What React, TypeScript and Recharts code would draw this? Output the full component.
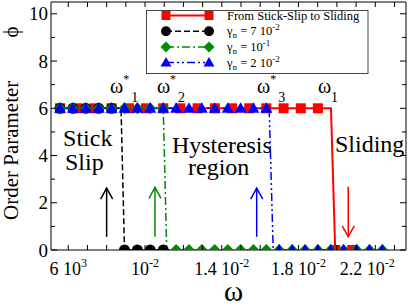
import React from 'react';
import { LineChart, Line, XAxis, YAxis, Legend, ReferenceLine, ReferenceDot } from 'recharts';

const SERIF = '"Liberation Serif", "Times New Roman", serif';
const RED = '#ff0000';
const BLACK = '#000000';
const GREEN = '#008b00';
const BLUE = '#0000ff';

// from stick-slip to sliding (omega increased)
const redOmega = [0.00557, 0.00647, 0.00736, 0.00826, 0.00916, 0.01005, 0.01095, 0.01184, 0.01274, 0.01364, 0.01453, 0.01543, 0.01632, 0.01722, 0.01812, 0.01901, 0.01991, 0.0208];
const redPhi = [6, 6, 6, 6, 6, 6, 6, 6, 6, 6, 6, 6, 6, 6, 6, 6, 0, 0];
const redDrop = [0.01969, 0.01991];

// gamma_n = 7e-2
const blackOmega = [0.00557, 0.00624, 0.00691, 0.00759, 0.00826, 0.00893, 0.0096, 0.01027, 0.01095];
const blackPhi = [6, 6, 6, 6, 6, 0, 0, 0, 0];
const blackDrop = [0.00875, 0.00893];

// gamma_n = 1e-1
const greenOmega = [0.00557, 0.00624, 0.00691, 0.00759, 0.00826, 0.00893, 0.0096, 0.01027, 0.01095, 0.01162, 0.01229, 0.01296, 0.01363, 0.01431, 0.01498, 0.01565, 0.01632, 0.01699, 0.01767, 0.01834, 0.01901, 0.01968, 0.02035, 0.02103, 0.0217, 0.02237];
const greenPhi = [6, 6, 6, 6, 6, 6, 6, 6, 6, 0, 0, 0, 0, 0, 0, 0, 0, 0, 0, 0, 0, 0, 0, 0, 0, 0];
const greenDrop = [0.01095, 0.01113];

// gamma_n = 2e-2
const blueOmega = [0.00557, 0.00624, 0.00691, 0.00759, 0.00826, 0.00893, 0.0096, 0.01027, 0.01095, 0.01162, 0.01229, 0.01296, 0.01363, 0.01431, 0.01498, 0.01565, 0.01632, 0.01699, 0.01767, 0.01834, 0.01901, 0.01968, 0.02035, 0.02103, 0.0217, 0.02237];
const bluePhi = [6, 6, 6, 6, 6, 6, 6, 6, 6, 6, 6, 6, 6, 6, 6, 6, 6, 0, 0, 0, 0, 0, 0, 0, 0, 0];
const blueDrop = [0.01647, 0.01668];

const xTicks = [0.006, 0.007, 0.008, 0.009, 0.01, 0.011, 0.012, 0.013, 0.014, 0.015, 0.016, 0.017, 0.018, 0.019, 0.02, 0.021, 0.022, 0.023];
const xMajor = [0.006, 0.01, 0.014, 0.018, 0.022];
const xMajorText = ['6 10', '10', '1.4 10', '1.8 10', '2.2 10'];
const xMajorExp = ['3', '-2', '-2', '-2', '-2'];
const yTicks = [0, 1, 2, 3, 4, 5, 6, 7, 8, 9, 10];

// annotations
const arrowOmega = [0.008, 0.01052, 0.01582, 0.02059];
const arrowFrom = [0.56, 0.56, 0.56, 2.68];
const arrowTo = [2.62, 2.65, 2.62, 0.56];
const arrowColor = [BLACK, GREEN, BLUE, RED];

const regionText = ['Stick', 'Slip', 'Hysteresis', 'region', 'Sliding'];
const regionOmega = [0.00573, 0.00583, 0.0114, 0.01224, 0.0199];
const regionPhi = [4.4, 3.4, 4.11, 3.18, 4.16];

const omegaMarkX = [0.00818, 0.01062, 0.01584, 0.01901];
const omegaMarkStar = [true, true, true, false];
const omegaMarkSub = ['1', '2', '3', '1'];

type Kind = 'square' | 'circle' | 'diamond' | 'triangle';

const series = [
  { key: 'red', color: RED, kind: 'square' as Kind, dash: undefined, width: 2, omega: redOmega, phi: redPhi, drop: redDrop, label: null, exp: null },
  { key: 'black', color: BLACK, kind: 'circle' as Kind, dash: '6 3', width: 1.5, omega: blackOmega, phi: blackPhi, drop: blackDrop, label: '7 10', exp: '-2' },
  { key: 'green', color: GREEN, kind: 'diamond' as Kind, dash: '8 3 2 3', width: 1.5, omega: greenOmega, phi: greenPhi, drop: greenDrop, label: '10', exp: '-1' },
  { key: 'blue', color: BLUE, kind: 'triangle' as Kind, dash: '8 3 2 3 2 3', width: 1.5, omega: blueOmega, phi: bluePhi, drop: blueDrop, label: '2 10', exp: '-2' },
];

const linePoints = (om: number[], ph: number[], drop: number[]) => {
  const pts = om.map((x, i) => ({ x, y: ph[i] }));
  pts.push({ x: drop[0], y: 6 }, { x: drop[1], y: 0 });
  return pts.sort((a, b) => a.x - b.x || b.y - a.y);
};

const Marker = ({ kind, cx, cy, color, s = 5 }: any) => {
  if (kind === 'square') return <rect x={cx - s} y={cy - s} width={2 * s} height={2 * s} fill={color} />;
  if (kind === 'circle') return <circle cx={cx} cy={cy} r={s + 0.5} fill={color} />;
  if (kind === 'diamond')
    return <path d={`M${cx},${cy - s - 1}L${cx + s + 1},${cy}L${cx},${cy + s + 1}L${cx - s - 1},${cy}Z`} fill={color} />;
  return <path d={`M${cx},${cy - s - 1}L${cx + s + 1},${cy + s - 0.5}L${cx - s - 1},${cy + s - 0.5}Z`} fill={color} />;
};

const BottomTick = (p: any) => {
  const v = p.payload.value;
  const i = xMajor.findIndex((m) => Math.abs(m - v) < 1e-7);
  // the last label sits a little left of its tick in the original
  const shift = i === xMajor.length - 1 ? -8 : 0;
  return (
    <g>
      <line x1={p.x} y1={p.y} x2={p.x} y2={p.y - 5} stroke="#000" />
      {i >= 0 && (
        <text x={p.x + shift} y={p.y + 25} textAnchor="middle" fontFamily={SERIF} fontSize={18} fill="#000">
          {xMajorText[i]}
          <tspan dy={-8} fontSize={12}>{xMajorExp[i]}</tspan>
        </text>
      )}
    </g>
  );
};

const TopTick = (p: any) => <line x1={p.x} y1={p.y} x2={p.x} y2={p.y + 5} stroke="#000" />;

const LeftTick = (p: any) => {
  const v = p.payload.value;
  const major = v % 2 === 0;
  return (
    <g>
      <line x1={p.x} y1={p.y} x2={p.x + (major ? 6 : 4)} y2={p.y} stroke="#000" />
      {major && (
        <text x={p.x - 3} y={p.y + 6.5} textAnchor="end" fontFamily={SERIF} fontSize={19} fill="#000">
          {v}
        </text>
      )}
    </g>
  );
};

const RightTick = (p: any) => {
  const major = p.payload.value % 2 === 0;
  return <line x1={p.x} y1={p.y} x2={p.x - (major ? 6 : 4)} y2={p.y} stroke="#000" />;
};

const xLabel = (props: any) => {
  const vb = props.viewBox;
  return (
    <text x={vb.x + vb.width / 2 + 5} y={vb.y + 51} textAnchor="middle" fontFamily={SERIF} fontSize={29} fill="#000">
      ω
    </text>
  );
};

const yLabel = (props: any) => {
  const vb = props.viewBox;
  const x = vb.x + 18;
  const yb = vb.y + 218;
  const yp = vb.y + 30;
  return (
    <g>
      <text x={x} y={yb} transform={`rotate(-90 ${x} ${yb})`} fontFamily={SERIF} fontSize={21} fill="#000">
        Order Parameter
      </text>
      <text x={x} y={yp} transform={`rotate(-90 ${x} ${yp})`} textAnchor="middle" fontFamily={SERIF} fontSize={21} fill="#000">
        ϕ
      </text>
    </g>
  );
};

const LegendBox = () => (
  <svg width={224} height={65} style={{ display: 'block', overflow: 'visible' }}>
    <rect x={0.5} y={0.5} width={221.5} height={63} fill="#fff" stroke="#444" />
    {series.map((s, i) => {
      const cy = 5.5 + 15.7 * i;
      return (
        <g key={s.key}>
          <line x1={20} y1={cy} x2={63} y2={cy} stroke={s.color} strokeWidth={s.width} strokeDasharray={s.dash} />
          <Marker kind={s.kind} cx={20} cy={cy} color={s.color} s={4.5} />
          <Marker kind={s.kind} cx={63} cy={cy} color={s.color} s={4.5} />
          {s.label === null ? (
            <text x={81} y={cy + 4} fontFamily={SERIF} fontSize={12.5} fill="#000">
              From Stick-Slip to Sliding
            </text>
          ) : (
            <text x={81} y={cy + 4} fontFamily={SERIF} fontSize={12.5} fill="#000">
              γ<tspan dy={3} fontSize={9}>n</tspan>
              <tspan dy={-3}> = {s.label}</tspan>
              <tspan dy={-5} fontSize={9}>{s.exp}</tspan>
            </text>
          )}
        </g>
      );
    })}
  </svg>
);

const arrowShape = (color: string, up: boolean) => (p: any) => {
  const { x1, y1, x2, y2 } = p;
  const tipY = up ? Math.min(y1, y2) : Math.max(y1, y2);
  const tailY = up ? Math.max(y1, y2) : Math.min(y1, y2);
  const d = up ? 11 : -11;
  return (
    <g>
      <line x1={x1} y1={tailY} x2={x2} y2={tipY} stroke={color} strokeWidth={1.5} />
      <polyline points={`${x2 - 6},${tipY + d} ${x2},${tipY} ${x2 + 6},${tipY + d}`} fill="none" stroke={color} strokeWidth={1.5} />
    </g>
  );
};

const textShape = (label: string) => (p: any) => (
  <text x={p.cx} y={p.cy} fontFamily={SERIF} fontSize={24} fill="#000">
    {label}
  </text>
);

const omegaShape = (star: boolean, sub: string) => (p: any) => (
  <text x={p.cx} y={p.cy} fontFamily={SERIF} fontSize={20} fill="#000">
    ω
    {star ? (
      <>
        <tspan dy={-10} fontSize={12}>*</tspan>
        <tspan dy={19} dx={2} fontSize={14}>{sub}</tspan>
      </>
    ) : (
      <tspan dy={9} fontSize={14}>{sub}</tspan>
    )}
  </text>
);

export default function App() {
  return (
    <div style={{ position: 'absolute', left: 0, top: 0, width: 409, height: 306, background: '#fff' }}>
      <LineChart width={409} height={306} margin={{ top: 0, right: 0, bottom: 0, left: 0 }}>
        <XAxis
          type="number"
          dataKey="x"
          domain={[0.0051, 0.0236]}
          allowDataOverflow
          ticks={xTicks}
          interval={0}
          tickSize={0}
          tickMargin={0}
          tickLine={false}
          tick={BottomTick}
          height={56}
          stroke="#000"
          label={xLabel}
        />
        <XAxis
          xAxisId="t"
          orientation="top"
          type="number"
          dataKey="x"
          domain={[0.0051, 0.0236]}
          allowDataOverflow
          ticks={xTicks}
          interval={0}
          tickSize={0}
          tickMargin={0}
          tickLine={false}
          tick={TopTick}
          height={2}
          stroke="#000"
        />
        <YAxis
          type="number"
          domain={[0, 10.5]}
          allowDataOverflow
          ticks={yTicks}
          interval={0}
          tickSize={0}
          tickMargin={0}
          tickLine={false}
          tick={LeftTick}
          width={51}
          stroke="#000"
          label={yLabel}
        />
        <YAxis
          yAxisId="r"
          orientation="right"
          type="number"
          domain={[0, 10.5]}
          allowDataOverflow
          ticks={yTicks}
          interval={0}
          tickSize={0}
          tickMargin={0}
          tickLine={false}
          tick={RightTick}
          width={3}
          stroke="#000"
        />

        {series.map((s) => [
          <Line
            key={s.key + '-line'}
            data={linePoints(s.omega, s.phi, s.drop)}
            dataKey="y"
            type="linear"
            stroke={s.color}
            strokeWidth={s.width}
            strokeDasharray={s.dash}
            dot={false}
            activeDot={false}
            isAnimationActive={false}
          />,
          <Line
            key={s.key + '-marks'}
            data={s.omega.map((x, i) => ({ x, y: s.phi[i] }))}
            dataKey="y"
            stroke="none"
            dot={(p: any) => <Marker key={p.index} kind={s.kind} cx={p.cx} cy={p.cy} color={s.color} />}
            activeDot={false}
            isAnimationActive={false}
          />,
        ])}

        {arrowOmega.map((x, i) => (
          <ReferenceLine
            key={'arrow' + i}
            segment={[
              { x, y: arrowFrom[i] },
              { x, y: arrowTo[i] },
            ]}
            shape={arrowShape(arrowColor[i], arrowTo[i] > arrowFrom[i])}
          />
        ))}
        {regionText.map((t, i) => (
          <ReferenceDot key={t} x={regionOmega[i]} y={regionPhi[i]} r={0} shape={textShape(t)} />
        ))}
        {omegaMarkX.map((x, i) => (
          <ReferenceDot key={'om' + i} x={x} y={6.65} r={0} shape={omegaShape(omegaMarkStar[i], omegaMarkSub[i])} />
        ))}

        <Legend
          layout="horizontal"
          verticalAlign="middle"
          align="center"
          content={() => <LegendBox />}
          wrapperStyle={{ left: 146, top: 10, width: 224, height: 65, margin: 0, padding: 0 }}
        />
      </LineChart>
    </div>
  );
}
